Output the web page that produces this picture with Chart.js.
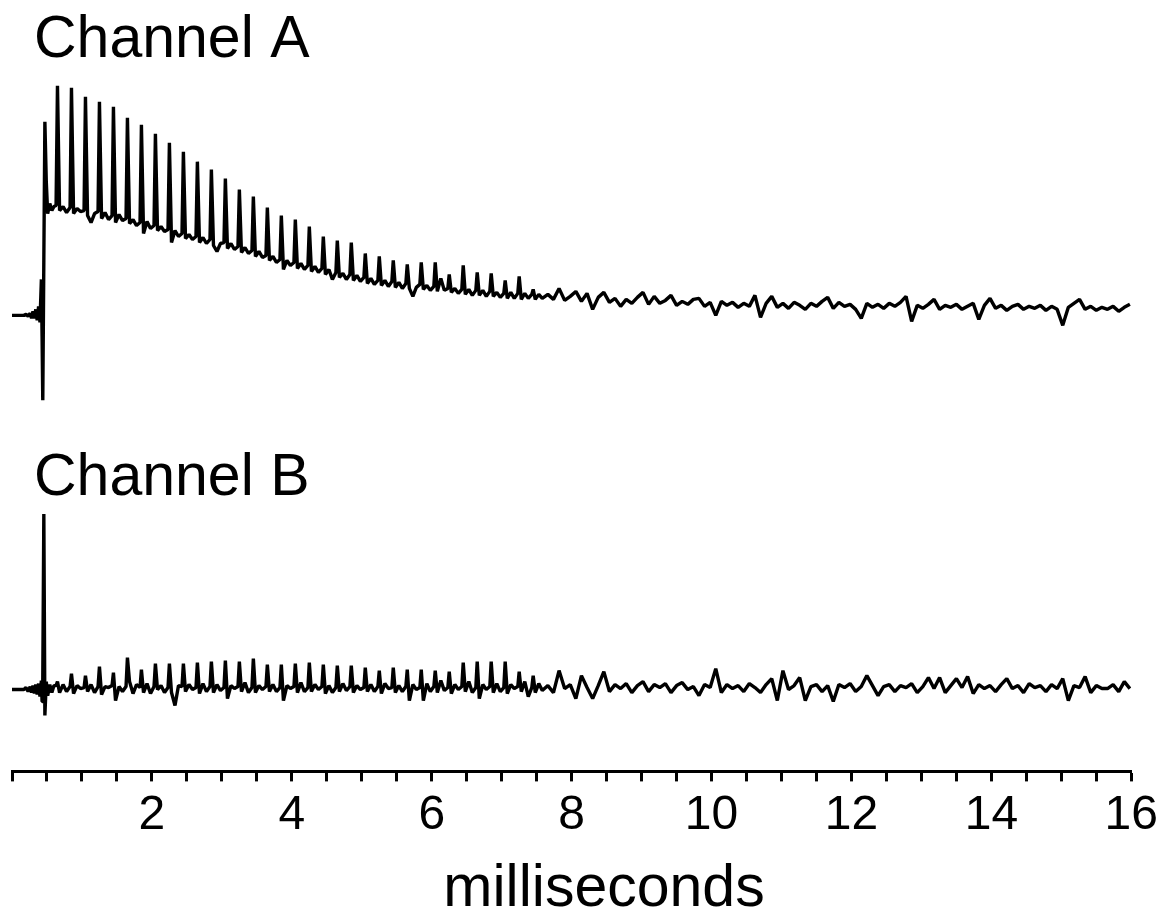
<!DOCTYPE html>
<html>
<head>
<meta charset="utf-8">
<script src="https://cdn.jsdelivr.net/npm/chart.js@4.4.1/dist/chart.umd.min.js"></script>
<style>
  html, body { margin: 0; padding: 0; background: #fff; }
  #wrap { width: 1164px; height: 909px; }
</style>
</head>
<body>
<div id="wrap"><canvas id="trace" width="1164" height="909"></canvas></div>
<script>
// sample times (ms), shared by both channels
const timeMs = [
  0.00, 0.10, 0.17, 0.20, 0.23, 0.26, 0.28, 0.30, 0.32, 0.34, 0.36, 0.38,
  0.40, 0.42, 0.43, 0.44, 0.455, 0.47, 0.49, 0.51, 0.54, 0.57, 0.60,
  0.63, 0.65, 0.68, 0.73, 0.78,
  0.83, 0.85, 0.88, 0.93, 0.98,
  1.03, 1.05, 1.08, 1.13, 1.18,
  1.23, 1.25, 1.28, 1.33, 1.38,
  1.43, 1.45, 1.48, 1.53, 1.58,
  1.63, 1.65, 1.68, 1.73, 1.78,
  1.83, 1.85, 1.88, 1.93, 1.98,
  2.03, 2.05, 2.08, 2.13, 2.18,
  2.23, 2.25, 2.28, 2.33, 2.38,
  2.43, 2.45, 2.48, 2.53, 2.58,
  2.63, 2.65, 2.68, 2.73, 2.78,
  2.83, 2.85, 2.88, 2.93, 2.98,
  3.03, 3.05, 3.08, 3.13, 3.18,
  3.23, 3.25, 3.28, 3.33, 3.38,
  3.43, 3.45, 3.48, 3.53, 3.58,
  3.63, 3.65, 3.68, 3.73, 3.78,
  3.83, 3.85, 3.88, 3.93, 3.98,
  4.03, 4.05, 4.08, 4.13, 4.18,
  4.23, 4.25, 4.28, 4.33, 4.38,
  4.43, 4.45, 4.48, 4.53, 4.58,
  4.63, 4.65, 4.68, 4.73, 4.78,
  4.83, 4.85, 4.88, 4.93, 4.98,
  5.03, 5.05, 5.08, 5.13, 5.18,
  5.23, 5.25, 5.28, 5.33, 5.38,
  5.43, 5.45, 5.48, 5.53, 5.58,
  5.63, 5.65, 5.68, 5.73, 5.78,
  5.83, 5.85, 5.88, 5.93, 5.98,
  6.03, 6.05, 6.08, 6.13, 6.18,
  6.23, 6.25, 6.28, 6.33, 6.38,
  6.43, 6.45, 6.48, 6.53, 6.58,
  6.63, 6.65, 6.68, 6.73, 6.78,
  6.83, 6.85, 6.88, 6.93, 6.98,
  7.03, 7.05, 7.08, 7.13, 7.18,
  7.23, 7.25, 7.28, 7.33, 7.38,
  7.43, 7.45, 7.48, 7.53, 7.58,
  7.66, 7.74, 7.82, 7.90, 7.98, 8.06, 8.14, 8.22, 8.30, 8.38,
  8.46, 8.54, 8.62, 8.70, 8.78, 8.86, 8.94, 9.02, 9.10, 9.18,
  9.26, 9.34, 9.42, 9.50, 9.58, 9.66, 9.74, 9.82, 9.90, 9.98,
  10.06, 10.14, 10.22, 10.30, 10.38, 10.46, 10.54, 10.62, 10.70, 10.78,
  10.86, 10.94, 11.02, 11.10, 11.18, 11.26, 11.34, 11.42, 11.50, 11.58,
  11.66, 11.74, 11.82, 11.90, 11.98, 12.06, 12.14, 12.22, 12.30, 12.38,
  12.46, 12.54, 12.62, 12.70, 12.78, 12.86, 12.94, 13.02, 13.10, 13.18,
  13.26, 13.34, 13.42, 13.50, 13.58, 13.66, 13.74, 13.82, 13.90, 13.98,
  14.06, 14.14, 14.22, 14.30, 14.38, 14.46, 14.54, 14.62, 14.70, 14.78,
  14.86, 14.94, 15.02, 15.10, 15.18, 15.26, 15.34, 15.42, 15.50, 15.58,
  15.66, 15.74, 15.82, 15.90, 15.98
];

// channel A amplitude (arbitrary units, 0 = resting baseline)
const channelA = [
  0, 0, 0, 0.01, -0.01, 0.02, -0.03, 0.04, -0.03, 0.06, -0.05, 0.09,
  -0.07, 0.36, -0.21, -0.85, 0.55, 1.94, 1.34, 1.02, 1.12, 1.05, 1.09,
  1.10, 2.30, 1.05, 1.09, 1.03,
  1.08, 2.28, 1.02, 1.07, 1.04,
  1.05, 2.19, 1.00, 0.93, 1.02,
  1.04, 2.14, 0.97, 1.03, 0.96,
  1.00, 2.09, 0.93, 1.01, 0.95,
  0.97, 1.98, 0.92, 0.96, 0.90,
  0.93, 1.91, 0.82, 0.94, 0.87,
  0.90, 1.82, 0.85, 0.89, 0.84,
  0.86, 1.73, 0.73, 0.85, 0.79,
  0.82, 1.64, 0.77, 0.81, 0.76,
  0.79, 1.54, 0.73, 0.78, 0.72,
  0.76, 1.46, 0.70, 0.64, 0.72,
  0.73, 1.37, 0.67, 0.72, 0.66,
  0.69, 1.26, 0.63, 0.68, 0.62,
  0.65, 1.19, 0.59, 0.64, 0.58,
  0.60, 1.08, 0.55, 0.59, 0.53,
  0.56, 1.00, 0.46, 0.55, 0.50,
  0.53, 0.96, 0.47, 0.52, 0.46,
  0.50, 0.89, 0.44, 0.49, 0.43,
  0.47, 0.79, 0.41, 0.46, 0.36,
  0.43, 0.75, 0.38, 0.42, 0.36,
  0.41, 0.73, 0.35, 0.40, 0.34,
  0.38, 0.62, 0.32, 0.37, 0.31,
  0.35, 0.59, 0.30, 0.35, 0.29,
  0.34, 0.55, 0.28, 0.33, 0.27,
  0.32, 0.51, 0.27, 0.19, 0.28,
  0.31, 0.53, 0.26, 0.30, 0.25,
  0.29, 0.53, 0.24, 0.37, 0.25,
  0.27, 0.41, 0.23, 0.27, 0.22,
  0.26, 0.50, 0.21, 0.26, 0.20,
  0.25, 0.43, 0.20, 0.25, 0.19,
  0.24, 0.42, 0.19, 0.23, 0.18,
  0.22, 0.35, 0.17, 0.23, 0.17,
  0.22, 0.39, 0.16, 0.22, 0.17,
  0.21, 0.26, 0.16, 0.21, 0.17,
  0.21, 0.16, 0.27, 0.15, 0.19, 0.24, 0.14, 0.22, 0.06, 0.18,
  0.23, 0.13, 0.17, 0.09, 0.16, 0.12, 0.18, 0.23, 0.11, 0.19,
  0.12, 0.15, 0.20, 0.10, 0.14, 0.11, 0.16, 0.17, 0.09, 0.13,
  0.00, 0.14, 0.10, 0.13, 0.08, 0.12, 0.09, 0.20, -0.02, 0.12,
  0.19, 0.08, 0.12, 0.07, 0.13, 0.10, 0.06, 0.12, 0.09, 0.14,
  0.18, 0.07, 0.13, 0.09, 0.11, 0.06, -0.03, 0.12, 0.08, 0.11,
  0.07, 0.12, 0.09, 0.13, 0.19, -0.06, 0.10, 0.07, 0.11, 0.16,
  0.06, 0.10, 0.08, 0.11, 0.06, 0.09, 0.12, -0.04, 0.10, 0.17,
  0.07, 0.10, 0.05, 0.09, 0.11, 0.06, 0.09, 0.07, 0.10, 0.05,
  0.09, 0.06, -0.10, 0.08, 0.12, 0.16, 0.06, 0.09, 0.05, 0.08,
  0.06, 0.09, 0.04, 0.08, 0.11
];

// channel B amplitude (same units)
const channelB = [
  0, 0, 0, 0.02, -0.02, 0.03, -0.03, 0.04, -0.04, 0.05, -0.05, 0.06,
  -0.07, 0.09, -0.12, 0.10, 1.76, -0.26, 0.08, -0.06, 0.05, -0.03, 0.04,
  0.04, 0.08, -0.03, 0.05, -0.02,
  0.03, 0.16, -0.04, 0.04, 0.01,
  0.02, 0.14, -0.02, 0.05, -0.03,
  0.03, 0.23, -0.05, 0.03, 0.02,
  0.04, 0.17, -0.11, 0.03, -0.02,
  0.03, 0.32, 0.08, -0.04, 0.05,
  0.02, 0.20, -0.03, 0.06, -0.04,
  0.03, 0.26, 0.00, 0.04, -0.03,
  0.02, 0.26, -0.03, -0.16, 0.04,
  0.03, 0.26, -0.02, 0.05, 0.00,
  0.02, 0.27, -0.04, 0.06, -0.02,
  0.03, 0.28, -0.03, 0.05, -0.01,
  0.02, 0.29, -0.09, 0.04, 0.01,
  0.03, 0.28, -0.02, 0.07, -0.03,
  0.02, 0.31, -0.03, 0.04, 0.00,
  0.03, 0.25, -0.02, 0.05, -0.02,
  0.02, 0.25, -0.11, 0.04, 0.01,
  0.03, 0.26, -0.03, 0.07, -0.02,
  0.02, 0.27, -0.02, 0.05, 0.00,
  0.03, 0.25, -0.04, 0.04, -0.03,
  0.02, 0.24, -0.02, 0.06, -0.01,
  0.03, 0.24, -0.03, 0.04, 0.00,
  0.02, 0.22, -0.02, 0.05, -0.02,
  0.03, 0.19, -0.04, 0.06, 0.01,
  0.02, 0.22, -0.03, 0.04, -0.02,
  0.03, 0.20, -0.11, 0.05, 0.00,
  0.02, 0.20, -0.11, 0.06, -0.02,
  0.03, 0.19, -0.03, 0.09, -0.01,
  0.02, 0.18, -0.04, 0.05, 0.00,
  0.03, 0.27, -0.02, 0.08, -0.03,
  0.02, 0.28, -0.09, 0.05, 0.00,
  0.03, 0.28, -0.03, 0.06, -0.02,
  0.02, 0.28, -0.04, 0.05, 0.01,
  0.03, 0.18, -0.02, 0.08, -0.07,
  0.02, 0.14, -0.03, 0.06, -0.01,
  0.04, -0.03, 0.19, 0.01, 0.05, -0.09, 0.14, 0.02, -0.09, 0.04,
  0.18, -0.02, 0.05, 0.01, 0.06, -0.03, 0.04, 0.08, -0.02, 0.05,
  0.02, 0.06, -0.03, 0.04, 0.07, 0.00, 0.03, -0.06, 0.05, 0.02,
  0.21, -0.03, 0.05, 0.01, 0.04, -0.02, 0.06, 0.02, -0.03, 0.05,
  0.11, -0.11, 0.19, 0.00, 0.04, 0.12, -0.11, 0.03, 0.05, -0.02,
  0.04, -0.12, 0.05, 0.02, 0.06, -0.02, 0.03, 0.14, 0.04, -0.06,
  0.03, 0.05, -0.02, 0.04, 0.02, 0.06, -0.03, 0.03, 0.12, 0.01,
  0.12, -0.03, 0.04, 0.11, 0.02, 0.13, -0.04, 0.05, 0.01, 0.04,
  -0.02, 0.05, 0.11, 0.01, 0.04, -0.03, 0.06, 0.02, 0.04, -0.02,
  0.05, 0.01, 0.11, -0.11, 0.04, 0.02, 0.13, -0.03, 0.04, 0.01,
  0.01, 0.05, -0.02, 0.08, 0.01
];

const channelNames = ['Channel A', 'Channel B'];
const tickLabels = [2, 4, 6, 8, 10, 12, 14, 16];
const axisTitle = 'milliseconds';

const FONT = '"Liberation Sans", Arial, Helvetica, sans-serif';

function toPoints(vals){
  return timeMs.map((t, i) => ({ x: t, y: vals[i] }));
}

// channel names + axis title drawn on the canvas
const textPlugin = {
  id: 'traceText',
  afterDraw(chart){
    const c = chart.ctx;
    c.save();
    c.fillStyle = '#000';
    c.textAlign = 'left';
    c.textBaseline = 'alphabetic';
    c.font = '59px ' + FONT;
    c.fillText(channelNames[0], 34, 57);
    c.fillText(channelNames[1], 34, 495);
    c.textAlign = 'center';
    c.fillText(axisTitle, 604, 906);
    c.restore();
  }
};

if (timeMs.length !== channelA.length || timeMs.length !== channelB.length) {
  console.error('length mismatch', timeMs.length, channelA.length, channelB.length);
}

const lineStyle = {
  borderColor: '#000',
  borderWidth: 3.4,
  pointRadius: 0,
  tension: 0,
  borderJoinStyle: 'bevel',
  fill: false
};

new Chart(document.getElementById('trace'), {
  type: 'line',
  data: {
    datasets: [
      Object.assign({ label: channelNames[0], data: toPoints(channelA), yAxisID: 'yA' }, lineStyle),
      Object.assign({ label: channelNames[1], data: toPoints(channelB), yAxisID: 'yB' }, lineStyle)
    ]
  },
  options: {
    responsive: false,
    animation: false,
    events: [],
    layout: { padding: { left: 12, right: 30, top: 0, bottom: 58 } },
    plugins: { legend: { display: false }, tooltip: { enabled: false }, title: { display: false } },
    scales: {
      x: {
        type: 'linear',
        position: 'bottom',
        min: 0,
        max: 16,
        ticks: {
          stepSize: 0.5,
          autoSkip: false,
          maxRotation: 0,
          padding: 6,
          color: '#000',
          font: { family: FONT, size: 48 },
          callback: v => tickLabels.includes(v) ? String(v) : ''
        },
        grid: { drawOnChartArea: false, drawTicks: true, tickLength: 10, tickWidth: 3, tickColor: '#000', color: '#000' },
        border: { display: true, color: '#000', width: 3 }
      },
      yA: { display: false, min: -4.57, max: 3.16 },
      yB: { display: false, min: -0.82, max: 6.91 }
    }
  },
  plugins: [textPlugin]
});
</script>
</body>
</html>
